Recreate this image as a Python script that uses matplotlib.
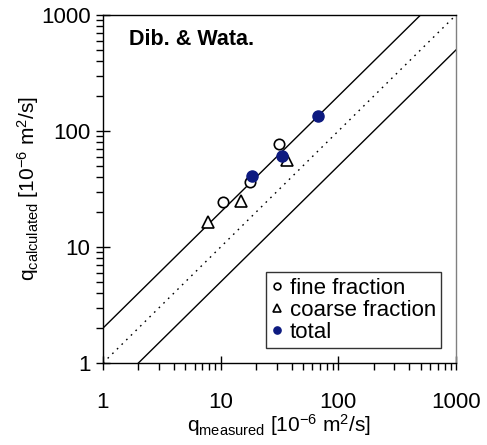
import matplotlib.pyplot as plt
import numpy as np

plt.rcParams['font.family'] = 'Liberation Sans'
plt.rcParams['mathtext.fontset'] = 'custom'
plt.rcParams['mathtext.rm'] = 'Liberation Sans'
plt.rcParams['mathtext.it'] = 'Liberation Sans'

# datos
fine_x = [10.5, 17.8, 31.3]
fine_y = [24.4, 36.3, 77.3]
coarse_x = [7.8, 14.9, 36.6]
coarse_y = [16.4, 24.9, 56.2]
total_x = [18.5, 33.2, 67.2]
total_y = [40.9, 60.9, 134.7]

fig = plt.figure(figsize=(4.87, 4.45), dpi=100)
ax = fig.add_axes([103/487, 1-363/445, 353/487, 348/445])

x = np.array([1, 1000])
ax.plot(x, x, color='black', lw=1, dashes=(1.2, 3.5))
ax.plot(x, 2*x, '-', color='black', lw=1)
ax.plot(x, x/2, '-', color='black', lw=1)

ax.plot(fine_x, fine_y, 'o', mfc='white', mec='black', ms=7.5, mew=1.2, label='fine fraction')
ax.plot(coarse_x, coarse_y, '^', mfc='white', mec='black', ms=8, mew=1.2, label='coarse fraction')
ax.plot(total_x, total_y, 'o', color='#0d1a80', ms=8, label='total')

ax.set_xscale('log')
ax.set_yscale('log')
ax.set_xlim(1, 1000)
ax.set_ylim(1, 1000)
ax.set_xticks([1, 10, 100, 1000])
ax.set_xticklabels(['1', '10', '100', '1000'])
ax.set_yticks([1, 10, 100, 1000])
ax.set_yticklabels(['1', '10', '100', '1000'])
ax.tick_params(which='major', direction='inout', length=10, width=1, labelsize=16, pad=4)
ax.tick_params(which='minor', direction='out', length=5, width=1)
ax.tick_params(axis='x', which='major', pad=16)
ax.spines['right'].set_color('gray')
for s in ax.spines.values():
    s.set_linewidth(1)

ax.set_xlabel(r'q$_{\mathrm{measured}}$ [10$^{-6}$ m$^{2}$/s]', fontsize=15, labelpad=-1)
ax.set_ylabel(r'q$_{\mathrm{calculated}}$ [10$^{-6}$ m$^{2}$/s]', fontsize=15, labelpad=0)
ax.text(0.075, 0.93, 'Dib. & Wata.', transform=ax.transAxes, fontsize=15.5, fontweight='bold', va='center')

leg = ax.legend(loc='lower right', fontsize=16, markerscale=0.65, handlelength=0.5, handletextpad=0.3,
                labelspacing=0.05, borderpad=0.25, fancybox=False, edgecolor='black',
                bbox_to_anchor=(0.99, 0.01))
leg.get_frame().set_linewidth(1)

fig.savefig('out.png', dpi=100)
